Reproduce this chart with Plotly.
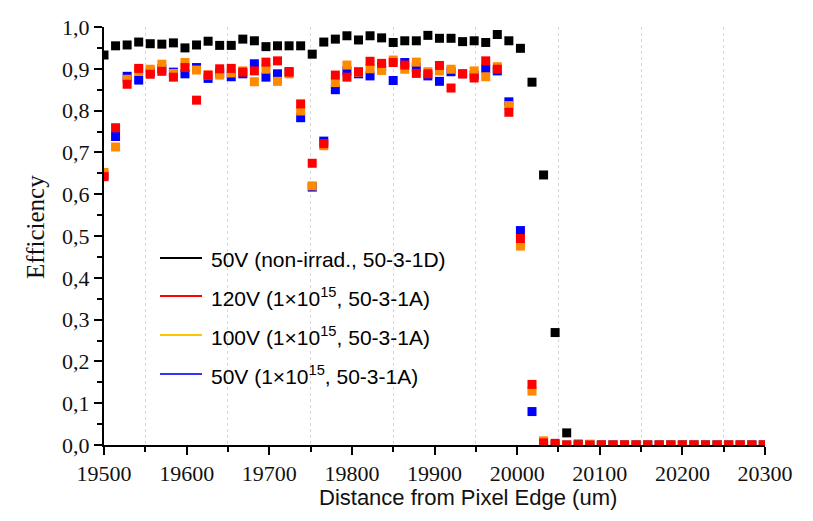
import plotly.graph_objects as go

# ---------------- data ----------------
distance_um = [19500, 19514, 19528, 19542, 19556, 19570, 19584, 19598, 19612, 19626,
               19640, 19654, 19668, 19682, 19696, 19710, 19724, 19738, 19752, 19766,
               19780, 19794, 19808, 19822, 19836, 19850, 19864, 19878, 19892, 19906,
               19920, 19934, 19948, 19962, 19976, 19990, 20004, 20018, 20032, 20046,
               20060, 20074, 20088, 20102, 20116, 20130, 20144, 20158, 20172, 20186,
               20200, 20214, 20228, 20242, 20256, 20270, 20284, 20298]

eff_50V_nonirr = [0.933, 0.955, 0.957, 0.964, 0.960, 0.959, 0.962, 0.950, 0.957, 0.966,
                  0.956, 0.956, 0.971, 0.967, 0.953, 0.955, 0.955, 0.955, 0.935, 0.964,
                  0.971, 0.979, 0.969, 0.979, 0.974, 0.963, 0.967, 0.967, 0.980, 0.973,
                  0.973, 0.965, 0.967, 0.963, 0.982, 0.967, 0.949, 0.868, 0.646, 0.269,
                  0.029, 0.002, 0.0, 0.0, 0.0, 0.0, 0.0, 0.0, 0.0, 0.0,
                  0.0, 0.0, 0.0, 0.0, 0.0, 0.0, 0.0, 0.0]

eff_120V_irr = [0.642, 0.759, 0.863, 0.901, 0.887, 0.894, 0.880, 0.903, 0.825, 0.885,
                0.900, 0.901, 0.892, 0.895, 0.916, 0.919, 0.892, 0.816, 0.674, 0.721,
                0.885, 0.880, 0.893, 0.918, 0.913, 0.915, 0.909, 0.889, 0.888, 0.908,
                0.854, 0.888, 0.878, 0.919, 0.899, 0.796, 0.494, 0.145, 0.005, 0.004,
                0.0, 0.0, 0.0, 0.0, 0.0, 0.0, 0.0, 0.0, 0.0, 0.0,
                0.0, 0.0, 0.0, 0.0, 0.0, 0.0, 0.0, 0.0]

eff_100V_irr = [0.652, 0.713, 0.875, 0.895, 0.899, 0.911, 0.889, 0.915, 0.897, 0.885,
                0.885, 0.890, 0.895, 0.869, 0.899, 0.870, 0.888, 0.799, 0.620, 0.716,
                0.867, 0.909, 0.892, 0.900, 0.896, 0.921, 0.899, 0.916, 0.893, 0.895,
                0.899, 0.888, 0.895, 0.881, 0.905, 0.812, 0.476, 0.129, 0.010, 0.002,
                0.0, 0.0, 0.002, 0.0, 0.0, 0.0, 0.0, 0.0, 0.0, 0.0,
                0.0, 0.0, 0.0, 0.0, 0.0, 0.0, 0.0, 0.0]

eff_50V_irr = [0.645, 0.738, 0.882, 0.873, 0.893, 0.900, 0.892, 0.888, 0.903, 0.877,
               0.890, 0.881, 0.888, 0.912, 0.880, 0.888, 0.893, 0.783, 0.617, 0.727,
               0.850, 0.895, 0.888, 0.883, 0.905, 0.872, 0.915, 0.904, 0.883, 0.870,
               0.893, 0.888, 0.885, 0.900, 0.895, 0.821, 0.513, 0.080, 0.0, 0.0,
               0.0, 0.0, 0.0, 0.0, 0.0, 0.0, 0.0, 0.0, 0.0, 0.0,
               0.0, 0.0, 0.0, 0.0, 0.0, 0.0, 0.0, 0.0]

x_tick_vals = [19500, 19600, 19700, 19800, 19900, 20000, 20100, 20200, 20300]
x_tick_text = ["19500", "19600", "19700", "19800", "19900", "20000", "20100", "20200", "20300"]
y_tick_vals = [0.0, 0.1, 0.2, 0.3, 0.4, 0.5, 0.6, 0.7, 0.8, 0.9, 1.0]
y_tick_text = ["0,0", "0,1", "0,2", "0,3", "0,4", "0,5", "0,6", "0,7", "0,8", "0,9", "1,0"]
x_minor_vals = [19550, 19650, 19750, 19850, 19950, 20050, 20150, 20250]
y_minor_vals = [0.05, 0.15, 0.25, 0.35, 0.45, 0.55, 0.65, 0.75, 0.85, 0.95]

legend_labels = ["50V (non-irrad., 50-3-1D)",
                 "120V (1×10<sup>15</sup>, 50-3-1A)",
                 "100V (1×10<sup>15</sup>, 50-3-1A)",
                 "50V (1×10<sup>15</sup>, 50-3-1A)"]

# ---------------- styling ----------------
W, H = 813, 521
L, R, T, B = 104, 765, 27, 445
marker_cols = ["#000000", "#ff0000", "#ff8a00", "#0000ff"]
legend_line_cols = ["#000000", "#ff0000", "#ffc400", "#3333ff"]


def px_x(p):
    return (p - L) / (R - L)


def px_y(p):
    return (B - p) / (B - T)


fig = go.Figure()
series = [eff_50V_nonirr, eff_120V_irr, eff_100V_irr, eff_50V_irr]
# drawing order: black, blue, orange, red (red on top)
for idx in [0, 3, 2, 1]:
    fig.add_trace(go.Scatter(
        x=distance_um, y=series[idx], mode="markers",
        marker=dict(symbol="square", size=9, color=marker_cols[idx], line=dict(width=0)),
        showlegend=False, cliponaxis=True, hoverinfo="x+y"))

shapes = []
annotations = []
# white legend box hiding grid
shapes.append(dict(type="rect", xref="paper", yref="paper",
                   x0=px_x(128), x1=px_x(470), y0=px_y(405), y1=px_y(213),
                   fillcolor="white", line=dict(width=0), layer="between"))
legend_y = [258, 296, 335, 374]
for lab, col, yy in zip(legend_labels, legend_line_cols, legend_y):
    shapes.append(dict(type="line", xref="paper", yref="paper",
                       x0=px_x(160), x1=px_x(202), y0=px_y(yy), y1=px_y(yy),
                       line=dict(color=col, width=2)))
    annotations.append(dict(text=lab, xref="paper", yref="paper",
                            x=px_x(209), y=px_y(yy + 1), xanchor="left", yanchor="middle",
                            showarrow=False,
                            font=dict(family="Liberation Sans", size=21, color="black")))

annotations.append(dict(text="Distance from Pixel Edge (um)", xref="paper", yref="paper",
                        x=px_x(468), y=px_y(497), xanchor="center", yanchor="middle",
                        showarrow=False,
                        font=dict(family="Liberation Sans", size=22, color="#111111")))
annotations.append(dict(text="Efficiency", xref="paper", yref="paper",
                        x=px_x(35), y=px_y(227), xanchor="center", yanchor="middle",
                        textangle=-90, showarrow=False,
                        font=dict(family="Liberation Serif", size=25, color="#111111")))

fig.update_layout(
    width=W, height=H,
    margin=dict(l=L, r=W - R, t=T, b=H - B, pad=0),
    paper_bgcolor="white", plot_bgcolor="white",
    shapes=shapes, annotations=annotations,
    xaxis=dict(range=[19500, 20300], tickmode="array", tickvals=x_tick_vals, ticktext=x_tick_text,
               showgrid=False, zeroline=False, showline=True, linecolor="black", linewidth=2,
               ticks="outside", ticklen=8, tickwidth=2, tickcolor="black",
               tickfont=dict(family="Liberation Serif", size=22, color="#111111"),
               minor=dict(tickmode="array", tickvals=x_minor_vals, ticks="outside", ticklen=5,
                          tickwidth=1.5, tickcolor="black", showgrid=True,
                          gridcolor="#d8d8d8", griddash="dot", gridwidth=1)),
    yaxis=dict(range=[0, 1.0], tickmode="array", tickvals=y_tick_vals, ticktext=y_tick_text,
               showgrid=False, zeroline=False, showline=True, linecolor="black", linewidth=2,
               ticks="outside", ticklen=8, tickwidth=2, tickcolor="black",
               tickfont=dict(family="Liberation Serif", size=22, color="#111111"),
               minor=dict(tickmode="array", tickvals=y_minor_vals, ticks="outside", ticklen=5,
                          tickwidth=1.5, tickcolor="black", showgrid=False)),
)

fig.write_html("out.html")
